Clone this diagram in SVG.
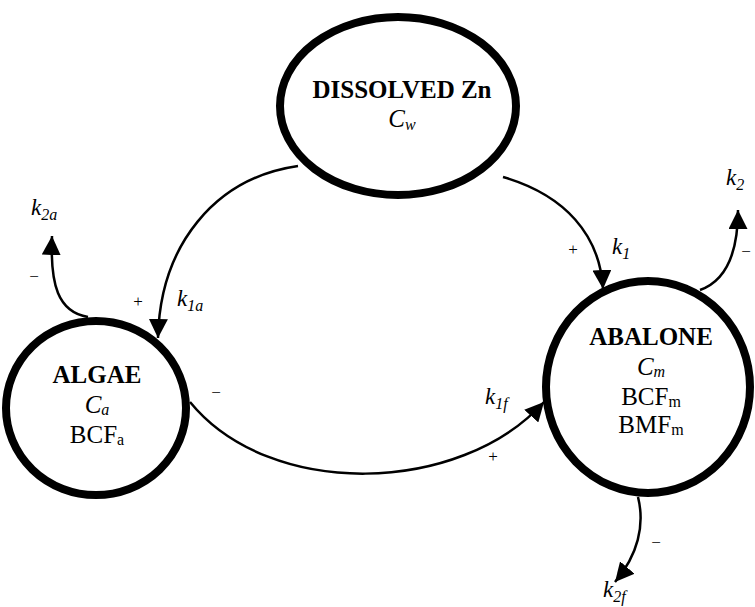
<svg xmlns="http://www.w3.org/2000/svg" width="755" height="607" viewBox="0 0 755 607">
<style>
.node{fill:#fff;stroke:#000;stroke-width:8}
.t{font-family:"Liberation Serif","Times New Roman",serif;font-size:25px;fill:#000;text-anchor:middle}
.b{font-weight:bold}
.i{font-style:italic}
.k{font-family:"Liberation Serif","Times New Roman",serif;font-size:23px;font-style:italic;fill:#000}
.s{font-family:"Liberation Serif","Times New Roman",serif;font-size:17px;fill:#000;text-anchor:middle}
.c{fill:none;stroke:#000;stroke-width:2.5}
</style>
<defs>
<marker id="ah" viewBox="0 0 18 18" markerWidth="19" markerHeight="19" refX="18" refY="9" orient="auto" markerUnits="userSpaceOnUse">
<path d="M0,0 L18,9 L0,18 z" fill="#000"/>
</marker>
</defs>
<g id="connectors">
<path class="c" d="M298 166 C215 178 160 245 158 338" marker-end="url(#ah)"/>
<path class="c" d="M88 317 C58 312 50 285 52 236" marker-end="url(#ah)"/>
<path class="c" d="M503 177 C565 195 600 235 603 289" marker-end="url(#ah)"/>
<path class="c" d="M700 290 C728 280 738 250 738 210" marker-end="url(#ah)"/>
<path class="c" d="M190 402 C270 500 460 495 544 402" marker-end="url(#ah)"/>
<path class="c" d="M638 497 C645 525 638 555 615 582" marker-end="url(#ah)"/>
</g>
<g id="water">
<ellipse class="node" cx="398" cy="106" rx="118" ry="89"/>
<text class="t b" x="402" y="98">DISSOLVED Zn</text>
<text class="t i" x="402" y="127">C<tspan font-size="16" dy="3">w</tspan></text>
</g>
<g id="algae">
<ellipse class="node" cx="96" cy="408" rx="90" ry="87"/>
<text class="t b" x="97" y="383">ALGAE</text>
<text class="t i" x="97" y="413">C<tspan font-size="16" dy="2">a</tspan></text>
<text class="t" x="97" y="443">BCF<tspan font-size="16" dy="2">a</tspan></text>
</g>
<g id="abalone">
<ellipse class="node" cx="648" cy="387" rx="102" ry="106"/>
<text class="t b" x="651" y="345">ABALONE</text>
<text class="t i" x="651" y="375">C<tspan font-size="16" dy="2">m</tspan></text>
<text class="t" x="651" y="405">BCF<tspan font-size="16" dy="2">m</tspan></text>
<text class="t" x="651" y="433">BMF<tspan font-size="16" dy="2">m</tspan></text>
</g>
<g id="labels">
<text class="k" x="31" y="215">k<tspan font-size="16" dy="5">2a</tspan></text>
<text class="k" x="177" y="306">k<tspan font-size="16" dy="5">1a</tspan></text>
<text class="k" x="612" y="254">k<tspan font-size="16" dy="5">1</tspan></text>
<text class="k" x="726" y="185">k<tspan font-size="16" dy="5">2</tspan></text>
<text class="k" x="485" y="404">k<tspan font-size="16" dy="5">1f</tspan></text>
<text class="k" x="603" y="597">k<tspan font-size="16" dy="5">2f</tspan></text>
<text class="s" x="34" y="282">−</text>
<text class="s" x="138" y="307">+</text>
<text class="s" x="573" y="255">+</text>
<text class="s" x="746" y="257">−</text>
<text class="s" x="216" y="398">−</text>
<text class="s" x="493" y="462">+</text>
<text class="s" x="656" y="548">−</text>
</g>
</svg>
